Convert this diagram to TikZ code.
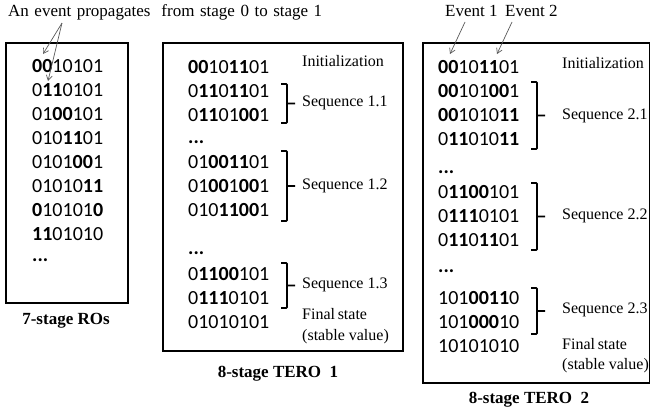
\documentclass[tikz,border=0pt]{standalone}
\usepackage{fontspec}
\setmainfont{Liberation Serif}
\newfontfamily\digfont{Carlito}
\usetikzlibrary{arrows.meta}
\newcommand\bd[1]{\textbf{#1}}
\newcommand\drawbrk[3]{\draw[brk] (#1-6,#2) -- (#1,#2) -- (#1,#3) -- (#1-6,#3) (#1,{(#2+#3)/2}) -- (#1+8,{(#2+#3)/2});}
\tikzset{
  frame/.style={draw, line width=2pt},
  bits/.style={anchor=west, inner sep=0pt, font=\digfont\fontsize{20}{24}\selectfont, text height=13pt, text depth=0pt},
  dots/.style={anchor=west, inner sep=0pt, font=\digfont\bfseries\fontsize{20}{24}\selectfont, text height=3pt, text depth=0pt},
  lab/.style={anchor=west, inner sep=0pt, font=\fontsize{16}{19}\selectfont, text height=11pt, text depth=3.5pt},
  top/.style={anchor=west, inner sep=0pt, font=\fontsize{17}{20}\selectfont, text height=11pt, text depth=3.5pt},
  ttl/.style={inner sep=0pt, font=\bfseries\fontsize{17}{20}\selectfont},
  evarrow/.style={draw=black!65, line width=0.7pt, -{Straight Barb[length=5pt,width=6pt]}},
  brk/.style={line width=1.8pt, rounded corners=0.8pt}
}
\begin{document}
\begin{tikzpicture}[x=1pt,y=-1pt]
\useasboundingbox (0,0) rectangle (650,413);
% frames
\draw[frame] (6,43) rectangle (128,303);
\draw[frame] (163,43) rectangle (403,351);
\draw[frame] (423,43) rectangle (650,383);
% caption and event labels
\node[top] (cap) at (8,13) {\makebox[314pt][s]{An event propagates\ \ from stage 0 to stage 1}};
\node[top] (ev1) at (445,13) {Event 1};
\node[top] (ev2) at (505,13) {Event 2};
% 7-stage RO rows
\node[bits] (r1) at (32,66) {\bd{00}10101};
\node[bits] (r2) at (32,90) {0\bd{11}0101};
\node[bits] (r3) at (32,114) {01\bd{00}101};
\node[bits] (r4) at (32,138) {010\bd{11}01};
\node[bits] (r5) at (32,162) {0101\bd{00}1};
\node[bits] (r6) at (32,186) {01010\bd{11}};
\node[bits] (r7) at (32,210) {\bd{0}10101\bd{0}};
\node[bits] (r8) at (32,234) {\bd{11}01010};
\node[dots] (r9) at (32,260) {...};
\node[ttl] (t1) at (66,321) {7-stage ROs};
% TERO 1 rows
\node[bits] (a1) at (188,67) {\bd{00}10\bd{11}01};
\node[bits] (a2) at (188,91) {0\bd{11}0\bd{11}01};
\node[bits] (a3) at (188,115) {0\bd{11}01\bd{00}1};
\node[dots] (a4) at (188,142) {...};
\node[bits] (a5) at (188,162) {01\bd{0011}01};
\node[bits] (a6) at (188,186) {01\bd{00}1\bd{00}1};
\node[bits] (a7) at (188,210) {010\bd{1100}1};
\node[dots] (a8) at (188,253) {...};
\node[bits] (a9) at (188,274) {0\bd{1100}101};
\node[bits] (a10) at (188,298) {0\bd{111}0101};
\node[bits] (a11) at (188,322) {01010101};
\node[lab] (i1) at (302,63) {Initialization};
\node[lab] (s11) at (302,103) {Sequence 1.1};
\node[lab] (s12) at (302,186) {Sequence 1.2};
\node[lab] (s13) at (302,285) {Sequence 1.3};
\node[lab] (f1) at (302,316) {\makebox[58pt][s]{Final state}};
\node[lab] (v1) at (302,337) {(stable value)};
\drawbrk{287}{84}{123}
\drawbrk{287}{151}{221}
\drawbrk{287}{263}{308}
\node[ttl] (t2) at (278,374) {8-stage TERO\ \ 1};
% TERO 2 rows
\node[bits] (b1) at (438,67) {\bd{00}10\bd{11}01};
\node[bits] (b2) at (438,91) {\bd{00}101\bd{00}1};
\node[bits] (b3) at (438,115) {\bd{00}1010\bd{11}};
\node[bits] (b4) at (438,139) {0\bd{11}010\bd{11}};
\node[dots] (b5) at (438,172) {...};
\node[bits] (b6) at (438,192) {0\bd{1100}101};
\node[bits] (b7) at (438,216) {0\bd{111}0101};
\node[bits] (b8) at (438,240) {0\bd{11}0\bd{11}01};
\node[dots] (b9) at (438,271) {...};
\node[bits] (b10) at (438,298) {101\bd{0011}0};
\node[bits] (b11) at (438,322) {101\bd{000}10};
\node[bits] (b12) at (438,346) {10101010};
\node[lab] (i2) at (562,65) {Initialization};
\node[lab] (s21) at (562,116) {Sequence 2.1};
\node[lab] (s22) at (562,216) {Sequence 2.2};
\node[lab] (s23) at (562,310) {Sequence 2.3};
\node[lab] (f2) at (562,346) {\makebox[58pt][s]{Final state}};
\node[lab] (v2) at (562,366) {(stable value)};
\drawbrk{537}{82}{149}
\drawbrk{537}{183}{250}
\drawbrk{537}{288}{334}
\node[ttl] (t3) at (529,400) {8-stage TERO\ \ 2};
% event arrows
\coordinate (cs) at (62,23);
\coordinate (ce1) at (43,54);
\coordinate (ce2) at (48,81);
\draw[evarrow] (cs) -- (ce1);
\draw[evarrow] (cs) -- (ce2);
\coordinate (e1s) at (465,22);
\coordinate (e1e) at (450,54);
\coordinate (e2s) at (512,22);
\coordinate (e2e) at (497,54);
\draw[evarrow] (e1s) -- (e1e);
\draw[evarrow] (e2s) -- (e2e);
\end{tikzpicture}
\end{document}
